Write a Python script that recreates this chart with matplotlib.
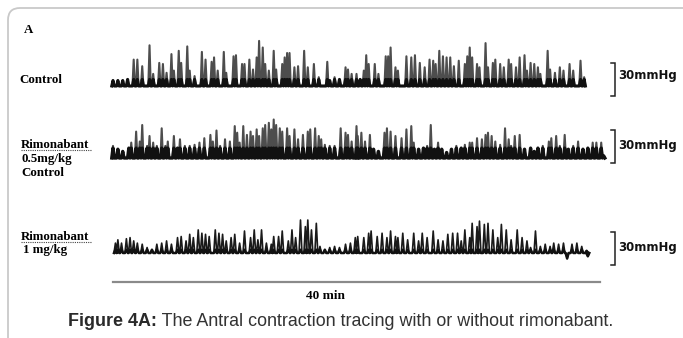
import numpy as np
import matplotlib
matplotlib.use("Agg")
import matplotlib.pyplot as plt
from matplotlib.patches import FancyBboxPatch
from matplotlib.lines import Line2D
from matplotlib.transforms import IdentityTransform

# ---- data (time in min, pressure in mmHg above baseline) ----
ctrl_t = [0.0, 0.4, 0.8, 1.2, 1.7, 2.0, 2.4, 3.0, 3.3, 3.8, 4.1, 4.4, 4.8, 5.0, 5.4, 5.6,
          6.1, 6.3, 6.7, 7.3, 7.6, 8.1, 8.3, 8.6, 9.1, 9.3, 9.9, 10.1, 10.6, 10.8, 11.2,
          11.5, 11.8, 12.0, 12.3, 12.5, 12.8, 13.2, 13.4, 13.9, 14.1, 14.3, 14.5, 14.9,
          15.2, 15.7, 16.0, 16.5, 16.9, 17.6, 17.8, 18.2, 18.6, 19.1, 19.3, 19.6, 20.0,
          20.3, 20.6, 20.8, 21.0, 21.5, 21.8, 22.4, 22.6, 22.8, 23.2, 23.4, 24.1, 24.5,
          24.8, 25.2, 25.6, 26.0, 26.3, 26.5, 26.8, 27.1, 27.4, 27.7, 28.0, 28.4, 28.9,
          29.1, 29.3, 29.5, 29.9, 30.1, 30.6, 30.8, 31.2, 31.4, 31.8, 32.1, 32.5, 32.7,
          33.1, 33.4, 33.8, 34.0, 34.3, 34.6, 34.9, 35.1, 35.7, 35.9, 36.3, 36.7, 37.0,
          37.5, 37.8, 38.4, 38.7]
ctrl_p = [5, 5, 5, 6, 24, 24, 18, 37, 11, 21, 20, 12, 29, 14, 32, 21,
          36, 14, 9, 31, 24, 22, 26, 14, 31, 12, 27, 28, 20, 20, 24,
          15, 26, 41, 35, 20, 14, 32, 15, 20, 26, 30, 30, 17,
          18, 32, 17, 20, 8, 22, 5, 8, 6, 17, 15, 11, 11,
          6, 14, 28, 20, 20, 11, 27, 27, 35, 17, 14, 27, 26,
          28, 21, 17, 24, 23, 20, 32, 27, 26, 26, 18, 23, 20,
          27, 35, 26, 20, 17, 39, 17, 21, 24, 20, 17, 24, 20,
          17, 26, 28, 14, 21, 20, 17, 11, 32, 15, 12, 17, 14,
          20, 14, 23, 8]

rim05_t = [0.0, 0.4, 0.8, 1.3, 1.5, 1.9, 2.2, 2.4, 2.8, 3.0, 3.3, 3.6, 4.0, 4.3, 4.5, 5.0,
           5.3, 5.5, 5.9, 6.3, 6.7, 7.1, 7.5, 8.0, 8.2, 8.5, 8.8, 9.2, 9.6, 10.0, 10.2,
           10.4, 10.7, 11.0, 11.3, 11.5, 11.8, 12.0, 12.3, 12.5, 12.8, 13.0, 13.2, 13.4,
           13.7, 13.9, 14.3, 14.5, 14.9, 15.2, 15.6, 16.0, 16.2, 16.6, 16.9, 17.1, 17.4,
           17.8, 18.2, 18.7, 19.1, 19.3, 19.6, 20.0, 20.1, 20.4, 20.7, 21.1, 21.4, 21.8,
           22.3, 22.5, 22.8, 23.2, 23.7, 24.1, 24.5, 24.7, 25.1, 25.5, 25.8, 26.1, 26.4,
           26.7, 27.0, 27.4, 27.8, 28.2, 28.6, 28.9, 29.3, 29.5, 29.9, 30.3, 30.6, 30.8,
           31.1, 31.4, 31.8, 32.2, 32.5, 32.7, 33.0, 33.4, 33.8, 34.3, 34.6, 34.9, 35.3,
           35.8, 36.0, 36.4, 36.7, 37.1, 37.4, 37.8, 38.2, 38.6, 39.0, 39.4, 39.7, 40.1,
           40.3]
rim05_p = [11, 8, 6, 9, 14, 24, 15, 30, 11, 20, 14, 11, 27, 11, 15, 20,
           9, 17, 11, 11, 12, 14, 18, 21, 15, 25, 11, 17, 15, 29, 23,
           14, 29, 21, 24, 20, 26, 20, 27, 30, 32, 26, 35, 30,
           27, 24, 27, 20, 26, 17, 21, 24, 26, 27, 20, 17, 12,
           11, 11, 27, 23, 21, 15, 29, 20, 23, 15, 21, 8, 6,
           23, 27, 24, 20, 18, 26, 29, 14, 8, 9, 11, 30, 8,
           14, 8, 5, 8, 11, 9, 12, 14, 14, 18, 17, 21, 23,
           20, 15, 12, 27, 17, 11, 20, 21, 8, 9, 6, 9, 11,
           15, 18, 20, 11, 21, 8, 11, 15, 8, 9, 14, 14, 14,
           2]

rim1_t = [0.2, 0.4, 0.7, 1.1, 1.4, 1.7, 2.0, 2.4, 2.8, 3.2, 3.6, 4.0, 4.4, 4.8, 5.3, 5.6,
          6.0, 6.3, 6.6, 7.0, 7.3, 7.6, 7.9, 8.4, 8.7, 9.0, 9.3, 9.7, 10.0, 10.4, 10.8,
          11.3, 11.6, 11.9, 12.2, 12.6, 13.0, 13.2, 13.6, 13.9, 14.4, 14.7, 15.0, 15.4,
          15.8, 16.0, 16.3, 16.7, 17.0, 17.4, 17.8, 18.2, 18.6, 19.1, 19.5, 19.9, 20.1,
          20.6, 21.0, 21.2, 21.7, 22.1, 22.5, 22.8, 23.2, 23.4, 23.8, 24.2, 24.7, 25.1,
          25.4, 25.8, 26.3, 26.7, 27.1, 27.5, 27.9, 28.3, 28.6, 28.9, 29.3, 29.5, 29.9,
          30.1, 30.5, 30.8, 31.2, 31.6, 31.9, 32.3, 32.7, 33.2, 33.6, 34.0, 34.3, 34.7,
          35.1, 35.5, 35.9, 36.2, 36.6, 37.0, 37.3, 37.7, 38.1, 38.5, 38.9, 39.0]
rim1_p = [9, 12, 9, 13, 14, 11, 9, 8, 5, 3, 8, 9, 11, 8, 14, 15,
          11, 17, 14, 21, 18, 17, 15, 21, 18, 17, 11, 14, 17, 9, 20,
          14, 21, 12, 21, 9, 8, 15, 15, 20, 11, 21, 14, 30,
          24, 30, 21, 27, 6, 3, 5, 6, 5, 8, 9, 14, 15,
          14, 18, 20, 15, 18, 14, 20, 15, 14, 18, 12, 18, 11,
          18, 14, 20, 12, 11, 17, 18, 18, 11, 21, 14, 27, 24,
          29, 26, 27, 21, 14, 26, 21, 12, 21, 14, 11, 5, 20,
          6, 8, 6, 9, 8, 9, -5, 8, 9, 6, 2, -3]

scale_mmhg = 30
time_bar_min = 40

# ---- layout (pixels of the 683x338 picture) ----
W, H = 683, 338
X0_PX, MIN_PX = 113, 487 / 40.0      # where t=0 sits, px per minute
PX_PER_MMHG = 33 / 30.0


def fx(px):
    return px / W


def fy(py):
    return 1 - py / H


def trace_axes(fig, base_px):
    ax = fig.add_axes([0, 0, 1, 1])
    ax.set_xlim(-X0_PX / MIN_PX, (W - X0_PX) / MIN_PX)
    ax.set_ylim((base_px - H) / PX_PER_MMHG, base_px / PX_PER_MMHG)
    ax.axis("off")
    ax.patch.set_alpha(0)
    return ax


def spike_line(t, p, half):
    xs, ys = [], []
    for ti, pi in zip(t, p):
        xs += [ti - half, ti, ti + half]
        ys += [0, pi, 0]
    return np.array(xs), np.array(ys)


def scale_bar(ax, low):
    t_bar = (615 - X0_PX) / MIN_PX
    t_tick = (611 - X0_PX) / MIN_PX
    ax.plot([t_tick, t_bar, t_bar, t_tick], [low, low, low + scale_mmhg, low + scale_mmhg],
            color="#222222", lw=1.1, solid_joinstyle="miter")


fig = plt.figure(figsize=(W / 100, H / 100), dpi=100)
fig.patch.set_facecolor("white")

# rounded frame
frame = FancyBboxPatch((8, -40), 760, H - 8 + 40, boxstyle="round,pad=0,rounding_size=12",
                       transform=IdentityTransform(), facecolor="none",
                       edgecolor="#c9c9c9", lw=1.3)
fig.patches.append(frame)

serif = ["Liberation Serif", "DejaVu Serif"]

# trace 1: control
ax1 = trace_axes(fig, 86)
x, y = spike_line(ctrl_t, ctrl_p, 0.1)
ax1.plot(x, y, color="#4d4d4d", lw=1.5)
ax1.plot(x, np.minimum(y, 6), color="#111111", lw=2.2)
scale_bar(ax1, -9)

# trace 2: rimonabant 0.5 mg/kg
ax2 = trace_axes(fig, 158)
x, y = spike_line(rim05_t, rim05_p, 0.1)
ax2.plot(x, y, color="#4d4d4d", lw=1.5)
ax2.plot(x, np.minimum(y, 9), color="#111111", lw=2.4)
scale_bar(ax2, -5)

# trace 3: rimonabant 1 mg/kg
ax3 = trace_axes(fig, 253)
x, y = spike_line(rim1_t, rim1_p, 0.12)
ax3.plot(x, y, color="#1a1a1a", lw=1.2)
ax3.plot(x, np.minimum(y, 3), color="#111111", lw=1.8)
scale_bar(ax3, -11)
ax3.plot([0, time_bar_min], [-26, -26], color="#8a8a8a", lw=1.6)

# labels
lab = dict(family=serif, weight="bold", fontsize=9.3, va="center")
fig.text(fx(24), fy(30), "A", **lab)
fig.text(fx(19), fy(80), "Control", **lab)
fig.text(fx(21), fy(145), "Rimonabant", **lab)
fig.text(fx(21), fy(159), "0.5mg/kg", **lab)
fig.text(fx(21), fy(173), "Control", **lab)
fig.text(fx(21), fy(237), "Rimonabant", **lab)
fig.text(fx(23), fy(250), "1 mg/kg", **lab)
for yy in (150, 242):
    fig.lines.append(Line2D([fx(21), fx(91)], [fy(yy), fy(yy)], transform=fig.transFigure,
                            color="#444444", lw=0.8, ls=(0, (1, 1))))

for yy in (75, 145, 248):
    fig.text(fx(618), fy(yy), "30mmHg", family=["DejaVu Sans"], weight="bold",
             fontsize=8.5, va="center", color="#111111")

fig.text(fx(325), fy(296), "40 min", family=serif, weight="bold", fontsize=9.5,
         va="center", ha="center")

# caption, bold label + regular text, centred together
t1 = fig.text(0, fy(322), "Figure 4A:", family=["Liberation Sans"], weight="bold",
              fontsize=12.9, va="center", color="#2a2a2a")
t2 = fig.text(0, fy(322), " The Antral contraction tracing with or without rimonabant.",
              family=["Liberation Sans"], fontsize=12.9, va="center", color="#333333")
fig.canvas.draw()
r = fig.canvas.get_renderer()
w1 = t1.get_window_extent(r).width
w2 = t2.get_window_extent(r).width
start = 341 - (w1 + w2) / 2
t1.set_x(start / W)
t2.set_x((start + w1) / W)

fig.savefig("out.png", dpi=100)
